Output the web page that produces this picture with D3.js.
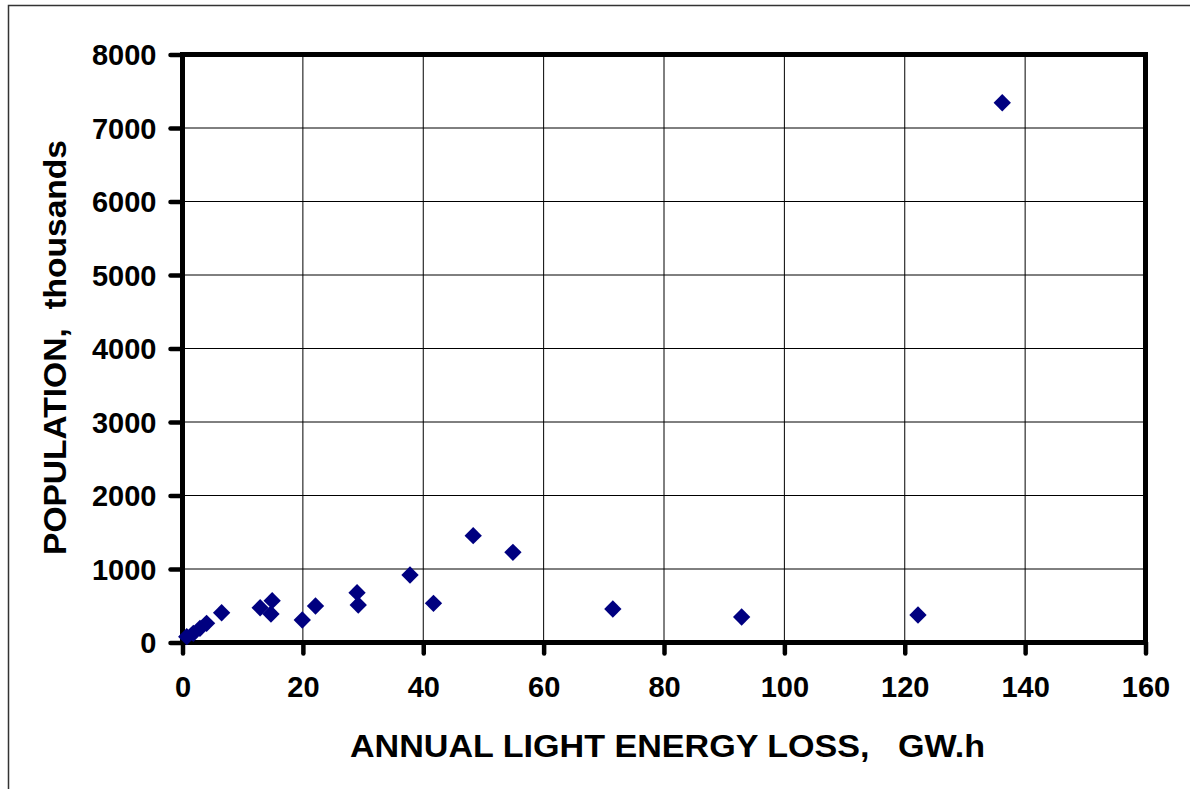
<!DOCTYPE html>
<html><head><meta charset="utf-8">
<script src="https://cdn.jsdelivr.net/npm/d3@7"></script>
<style>body{margin:0;background:#fff}svg{display:block}text{font-family:"Liberation Sans",Arial,sans-serif;font-weight:bold;fill:#000}</style>
</head><body><svg id="c" width="1190" height="789"></svg>
<script>
const lightLoss = [0.7,1.8,2.9,4.0,6.5,12.9,14.9,14.7,19.9,22.1,29.0,29.2,37.8,41.7,48.3,54.9,71.5,92.9,122.2,136.2];
const population = [79,125,193,261,405,473,569,388,306,497,678,510,918,533,1453,1227,456,347,374,7344];
const xTicks = [0,20,40,60,80,100,120,140,160];
const yTicks = [0,1000,2000,3000,4000,5000,6000,7000,8000];
const xTitle = "ANNUAL LIGHT ENERGY LOSS,   GW.h";
const yTitle = "POPULATION,  thousands";

const svg = d3.select("#c");
const L=182.5,R=1145.5,T=54.5,B=642.5;
const x = d3.scaleLinear().domain([0,160]).range([L,R]);
const y = d3.scaleLinear().domain([0,8000]).range([B,T]);

// outer frame
svg.append("rect").attr("x",8.5).attr("y",5.5).attr("width",1200).attr("height",800)
  .attr("fill","none").attr("stroke","#333").attr("stroke-width",1.5);

// gridlines
svg.append("g").selectAll("line").data(xTicks.slice(1,-1)).join("line")
  .attr("x1",d=>x(d)).attr("x2",d=>x(d)).attr("y1",T).attr("y2",B)
  .attr("stroke","#000").attr("stroke-width",1);
svg.append("g").selectAll("line").data(yTicks.slice(1,-1)).join("line")
  .attr("y1",d=>y(d)).attr("y2",d=>y(d)).attr("x1",L).attr("x2",R)
  .attr("stroke","#000").attr("stroke-width",1);

// axes
const xAx = svg.append("g").attr("transform",`translate(0,${B})`)
  .call(d3.axisBottom(x).tickValues(xTicks).tickSize(11).tickPadding(23).tickFormat(d3.format("d")));
const yAx = svg.append("g").attr("transform",`translate(${L},0)`)
  .call(d3.axisLeft(y).tickValues(yTicks).tickSize(12).tickPadding(14).tickFormat(d3.format("d")));
[xAx,yAx].forEach(g=>{
  g.select(".domain").remove();
  g.selectAll(".tick line").attr("stroke","#000").attr("stroke-width",4.5).attr("stroke-linecap","round");
  g.selectAll(".tick text").style("font-size","29px").style("font-family","Liberation Sans, Arial, sans-serif").style("font-weight","bold");
});
xAx.selectAll(".tick text").attr("dy","0.71em");
yAx.selectAll(".tick text").attr("dy","0.36em");

// plot frame
svg.append("rect").attr("x",L).attr("y",T).attr("width",R-L).attr("height",B-T)
  .attr("fill","none").attr("stroke","#000").attr("stroke-width",5);

// points
const diamond = d3.symbol().type(d3.symbolSquare).size(150);
svg.append("g").selectAll("path").data(lightLoss.map((v,i)=>[v,population[i]])).join("path")
  .attr("d",diamond).attr("transform",d=>`translate(${x(d[0])},${y(d[1])}) rotate(45)`)
  .attr("fill","#000080");

// titles
svg.append("text").attr("x",667.5).attr("y",757).attr("text-anchor","middle")
  .attr("textLength",635).attr("lengthAdjust","spacingAndGlyphs")
  .style("font-size","31px").style("white-space","pre").text(xTitle);
svg.append("text").attr("transform",`translate(66,347.5) rotate(-90)`).attr("text-anchor","middle")
  .attr("textLength",415).attr("lengthAdjust","spacingAndGlyphs")
  .style("font-size","31px").style("white-space","pre").text(yTitle);
</script></body></html>
